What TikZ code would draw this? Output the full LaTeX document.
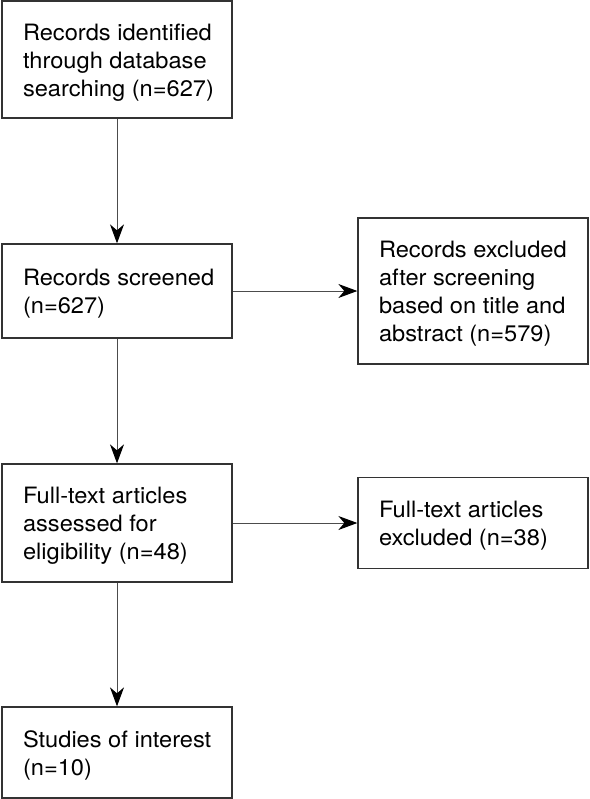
\documentclass[tikz,border=0pt]{standalone}
\usepackage{fontspec}
\setmainfont{TeX Gyre Heros}
\usepackage{graphicx}
\usetikzlibrary{arrows.meta}
\newcommand{\boxtext}[1]{\makebox[188pt][l]{\raisebox{-3pt}[\height][\depth]{\scalebox{1.05}[1]{\begin{tabular}{@{}l@{}}#1\end{tabular}}}}}
\begin{document}
\begin{tikzpicture}[x=1pt,y=1pt,
  flowbox/.style={draw=black!80, line width=1.3pt, rectangle, minimum width=230pt,
    inner sep=0pt, font=\fontsize{22.5}{28}\selectfont},
  flowarrow/.style={draw=black!70, line width=1pt,
    -{Stealth[length=19pt,width=14pt,inset=6pt,black]}}]
\useasboundingbox (0,0) rectangle (589,-799);
\node[flowbox, minimum height=117pt] (b1) at (117,-59.5)
  {\boxtext{Records identified\\through database\\searching (n=627)}};
\node[flowbox, minimum height=94pt] (b2) at (117,-291)
  {\boxtext{Records screened\\(n=627)}};
\node[flowbox, minimum height=146pt] (b3) at (473,-291)
  {\boxtext{Records excluded\\after screening\\based on title and\\abstract (n=579)}};
\node[flowbox, minimum height=118pt] (b4) at (117,-523)
  {\boxtext{Full-text articles\\assessed for\\eligibility (n=48)}};
\node[flowbox, minimum height=91pt] (b5) at (473,-523)
  {\boxtext{Full-text articles\\excluded (n=38)}};
\node[flowbox, minimum height=91pt] (b6) at (117,-752.5)
  {\boxtext{Studies of interest\\(n=10)}};
\draw[flowarrow] (b1) -- (b2);
\draw[flowarrow] (b2) -- (b3);
\draw[flowarrow] (b2) -- (b4);
\draw[flowarrow] (b4) -- (b5);
\draw[flowarrow] (b4) -- (b6);
\end{tikzpicture}
\end{document}
